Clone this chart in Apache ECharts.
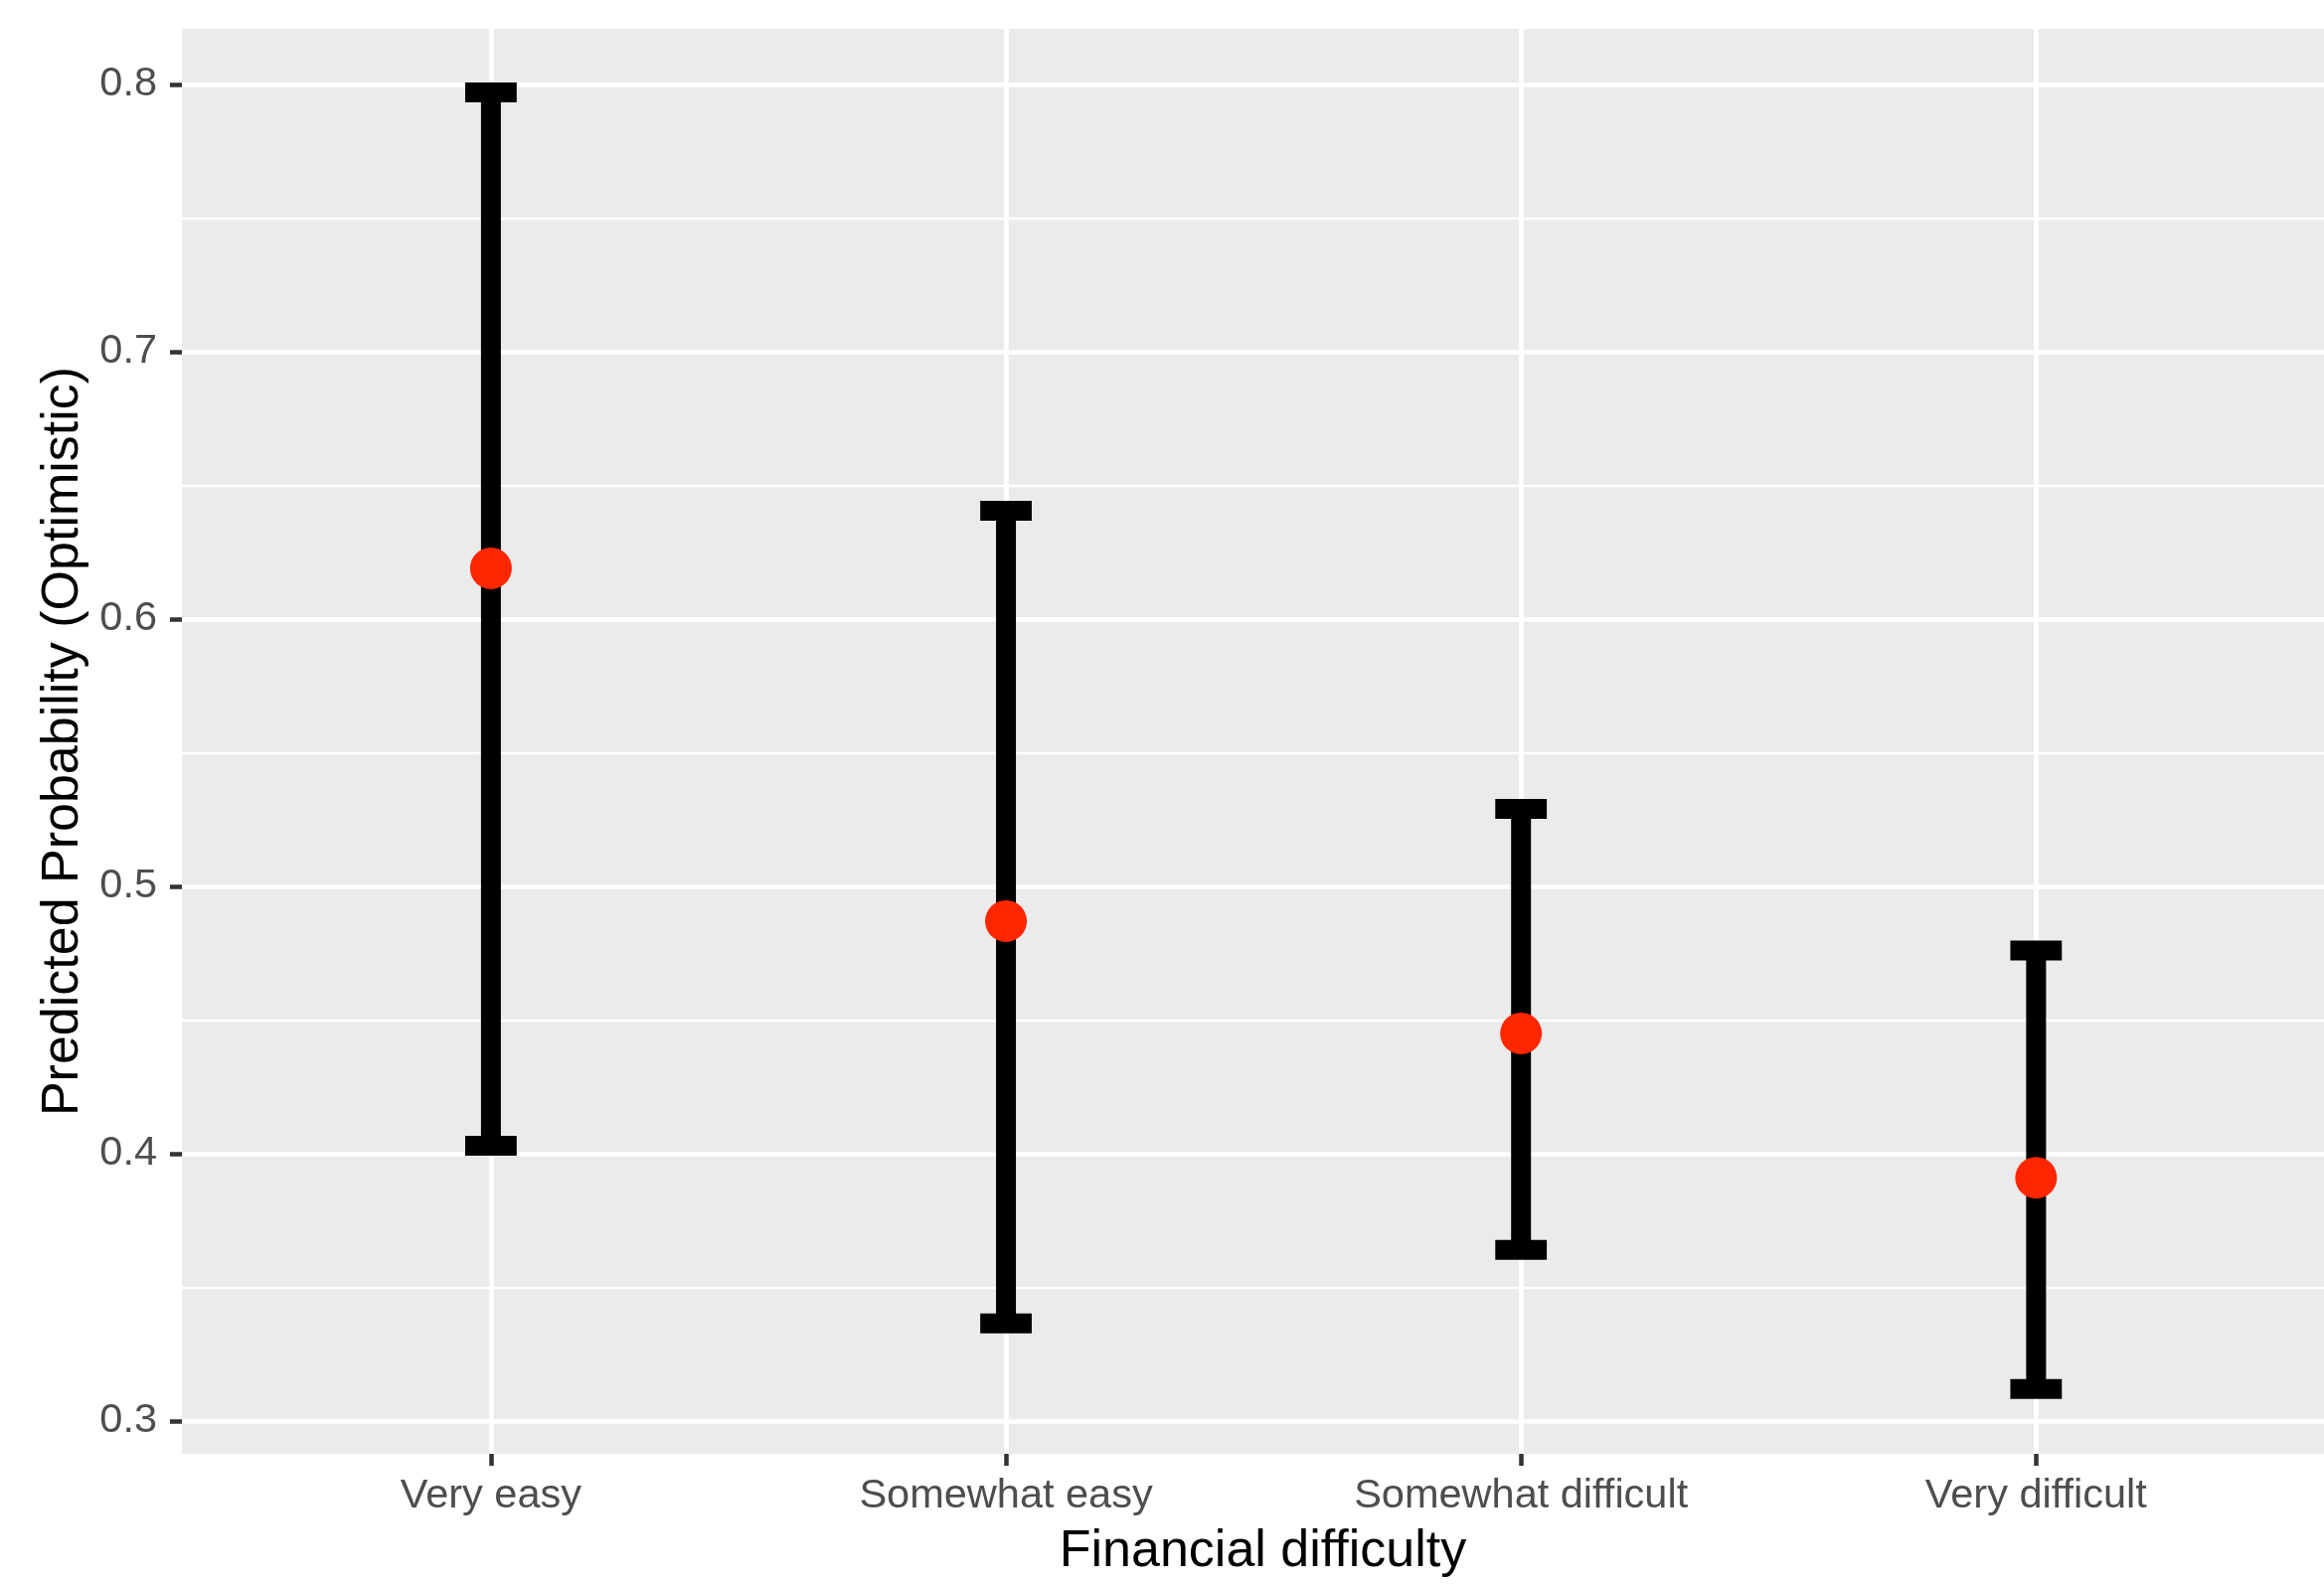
<!DOCTYPE html>
<html>
<head>
<meta charset="utf-8">
<script src="https://cdn.jsdelivr.net/npm/echarts@6/dist/echarts.min.js"></script>
<style>
  html, body { margin: 0; padding: 0; background: #ffffff; }
  #chart { width: 2338px; height: 1595px; }
</style>
</head>
<body>
<div id="chart"></div>
<script>
// categories and values
const categories = ["Very easy", "Somewhat easy", "Somewhat difficult", "Very difficult"];
const predicted = [0.619, 0.487, 0.445, 0.391];
const lower = [0.403, 0.3365, 0.364, 0.312];
const upper = [0.797, 0.6405, 0.529, 0.476];
const yMajorTicks = [0.3, 0.4, 0.5, 0.6, 0.7, 0.8];
const yMinorTicks = [0.35, 0.45, 0.55, 0.65, 0.75];
const xTicks = [0, 1, 2, 3];

const capWidth = 0.1; // errorbar width, in category units
const font = "Liberation Sans, Arial, Helvetica, sans-serif";

const chart = echarts.init(document.getElementById("chart"), null, { renderer: "canvas" });

const errorData = categories.map((c, i) => [i, lower[i], upper[i]]);
const pointData = categories.map((c, i) => [i, predicted[i]]);

// panel is cut off at the right edge of the image
const xRange = { min: -0.6, max: 3.559 };
const yRange = { min: 0.28773, max: 0.82082 };

const option = {
  backgroundColor: "#ffffff",
  animation: false,
  grid: {
    left: 183,
    top: 29,
    right: 0,
    bottom: 132,
    show: true,
    backgroundColor: "#EBEBEB",
    borderWidth: 0,
  },
  xAxis: {
    type: "value",
    min: xRange.min,
    max: xRange.max,
    name: "Financial difficulty",
    nameLocation: "middle",
    nameGap: 73,
    // title is centred on the full (uncut) panel, a bit right of the visible one
    nameTextStyle: { fontFamily: font, fontSize: 52, color: "#000000", padding: [0, 0, 0, 20] },
    axisLine: { show: false, onZero: false },
    axisTick: {
      show: true,
      customValues: xTicks,
      length: 12,
      lineStyle: { color: "#333333", width: 4.5 },
    },
    axisLabel: {
      customValues: xTicks,
      margin: 22,
      fontFamily: font,
      fontSize: 41.5,
      color: "#4D4D4D",
      formatter: (v) => categories[Math.round(v)],
    },
    splitLine: { show: true, lineStyle: { color: "#ffffff", width: 4.7 } },
  },
  yAxis: [
    {
      type: "value",
      min: yRange.min,
      max: yRange.max,
      name: "Predicted Probability (Optimistic)",
      nameLocation: "middle",
      nameGap: 93,
      nameTextStyle: { fontFamily: font, fontSize: 52, color: "#000000" },
      axisLine: { show: false, onZero: false },
      axisTick: {
        show: true,
        customValues: yMajorTicks,
        length: 12,
        lineStyle: { color: "#333333", width: 4.5 },
      },
      axisLabel: {
        customValues: yMajorTicks,
        margin: 25,
        fontFamily: font,
        fontSize: 41.5,
        color: "#4D4D4D",
        formatter: (v) => v.toFixed(1),
      },
      splitLine: { show: true, lineStyle: { color: "#ffffff", width: 4.7 } },
    },
    {
      // minor grid only
      type: "value",
      min: yRange.min,
      max: yRange.max,
      position: "left",
      axisLine: { show: false, onZero: false },
      axisTick: { show: false, customValues: yMinorTicks },
      axisLabel: { show: false, customValues: yMinorTicks },
      splitLine: { show: true, lineStyle: { color: "#ffffff", width: 2.4 } },
    },
  ],
  series: [
    {
      type: "custom",
      yAxisIndex: 0,
      data: errorData,
      z: 3,
      renderItem: (params, api) => {
        const x = api.value(0);
        const top = api.coord([x, api.value(2)]);
        const bot = api.coord([x, api.value(1)]);
        const half = api.size([capWidth, 0])[0] / 2;
        const style = { stroke: "#000000", lineWidth: 20, lineCap: "butt" };
        return {
          type: "group",
          children: [
            { type: "line", shape: { x1: top[0], y1: top[1], x2: bot[0], y2: bot[1] }, style },
            { type: "line", shape: { x1: top[0] - half, y1: top[1], x2: top[0] + half, y2: top[1] }, style },
            { type: "line", shape: { x1: bot[0] - half, y1: bot[1], x2: bot[0] + half, y2: bot[1] }, style },
          ],
        };
      },
    },
    {
      type: "scatter",
      yAxisIndex: 0,
      data: pointData,
      symbol: "circle",
      symbolSize: 42,
      z: 4,
      itemStyle: { color: "#FF2600", opacity: 1 },
    },
  ],
};

chart.setOption(option);
</script>
</body>
</html>
